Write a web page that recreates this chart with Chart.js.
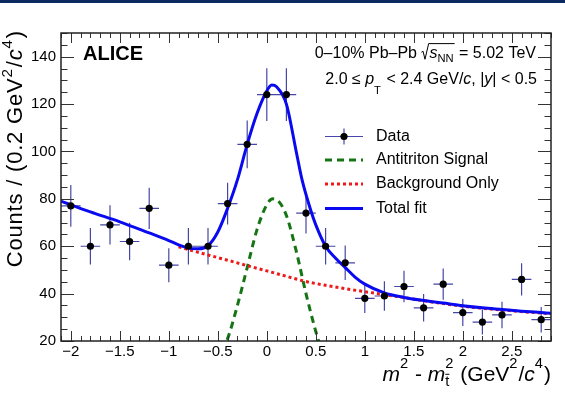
<!DOCTYPE html>
<html>
<head>
<meta charset="utf-8">
<script src="https://cdn.jsdelivr.net/npm/chart.js@4.4.1/dist/chart.umd.min.js"></script>
<style>
html, body { margin: 0; padding: 0; background: #fff; }
#wrap { position: relative; width: 565px; height: 397px; }
#band { position: absolute; left: 0; top: 0; width: 565px; height: 3px; background: #0b2a62; }
</style>
</head>
<body>
<div id="wrap"><canvas id="c" width="565" height="397"></canvas><div id="band"></div></div>
<script>
// measured counts per 0.2 GeV^2/c^4 bin
var binX = [-2.0, -1.8, -1.6, -1.4, -1.2, -1.0, -0.8, -0.6, -0.4, -0.2, 0.0, 0.2, 0.4, 0.6, 0.8, 1.0, 1.2, 1.4, 1.6, 1.8, 2.0, 2.2, 2.4, 2.6, 2.8];
var counts = [77, 60, 69, 62, 76, 52, 60, 60, 78, 103, 124, 124, 74, 60, 53, 38, 39, 43, 34, 44, 32, 28, 31, 46, 29];
var countErr = [8.8, 7.7, 8.3, 7.9, 8.7, 7.2, 7.7, 7.7, 8.8, 10.1, 11.1, 11.1, 8.6, 7.7, 7.3, 6.2, 6.2, 6.6, 5.8, 6.6, 5.7, 5.3, 5.6, 6.8, 5.4];
var binHalf = 0.1;

// fit curves
var fitX = [-2.1, -1.8, -1.5, -1.2, -1.0, -0.9, -0.8, -0.7, -0.6, -0.5, -0.4, -0.3, -0.2, -0.1, 0.0, 0.05, 0.1, 0.2, 0.3, 0.36, 0.45, 0.5, 0.6, 0.7, 0.8, 0.9, 1.0, 1.2, 1.4, 1.6, 1.8, 2.0, 2.2, 2.4, 2.6, 2.8, 2.9];
var fitY = [79, 74.5, 70.3, 65.6, 62.4, 60.6, 59.2, 58.9, 60.2, 66, 76, 88, 103, 116, 125.5, 128, 127.3, 120, 100, 88, 75, 69, 60, 55, 51, 47, 44, 40.3, 38.4, 37.1, 36, 34.9, 34, 33.3, 32.6, 32, 31.7];

var bkgX = [-0.9, -0.8, -0.6, -0.4, -0.2, 0.0, 0.2, 0.4, 0.6, 0.8, 1.0, 1.2, 1.4, 1.6, 1.8, 2.0, 2.2, 2.4, 2.6, 2.8, 2.9];
var bkgY = [59.8, 58.6, 56.3, 54.1, 51.8, 49.6, 47.3, 45.1, 43.5, 42.1, 40.8, 39.6, 38.3, 37, 35.8, 34.7, 33.8, 33.1, 32.4, 31.8, 31.5];

var sigX = [-0.46, -0.4, -0.3, -0.2, -0.1, 0.0, 0.06, 0.12, 0.2, 0.3, 0.4, 0.5, 0.56];
var sigY = [16, 21, 35, 51, 67, 77.5, 80, 79, 73, 58, 40, 24, 16];

var xTicks = [-2, -1.5, -1, -0.5, 0, 0.5, 1, 1.5, 2, 2.5];
var yTicks = [20, 40, 60, 80, 100, 120, 140];

var FF = '"Liberation Sans", Arial, Helvetica, sans-serif';
var errColor = '#4646a6';
var fitColor = '#0a0af0';
var bkgColor = '#ee1a1a';
var sigColor = '#157515';

function pts(xs, ys) {
    return xs.map(function (x, i) { return { x: x, y: ys[i] }; });
}
function fmt(v) { return String(v).replace('-', '\u2212'); }
function fnt(size, it, bold) {
    return (it ? 'italic ' : '') + (bold ? 'bold ' : '') + size + 'px ' + FF;
}

// tiny TLatex-like text: parts are {t}, {sup}, {sub}, {sup, sub} stacked, {rad: n}
function partWidth(ctx, p, fs) {
    if (p.rad) return fs * 0.5;
    if (p.sup !== undefined || p.sub !== undefined) {
        var s = fs * 0.7, w = 0;
        if (p.sup !== undefined) { ctx.font = fnt(s, p.supIt); w = Math.max(w, ctx.measureText(p.sup).width); }
        if (p.sub !== undefined) { ctx.font = fnt(s, p.subIt); w = Math.max(w, ctx.measureText(p.sub).width); }
        return w + 1;
    }
    ctx.font = fnt(fs, p.it, p.b);
    return ctx.measureText(p.t).width;
}

function drawRich(ctx, parts, x, y, fs, align, supDy) {
    var ws = parts.map(function (p) { return partWidth(ctx, p, fs); });
    var total = ws.reduce(function (a, b) { return a + b; }, 0);
    var cx = align === 'right' ? x - total : x;
    ctx.textAlign = 'left';
    ctx.textBaseline = 'alphabetic';
    ctx.fillStyle = '#000';
    ctx.strokeStyle = '#000';
    parts.forEach(function (p, i) {
        if (p.rad) {
            var aw = 0;
            for (var j = i + 1; j <= i + p.rad; j++) aw += ws[j];
            ctx.lineWidth = 1;
            ctx.beginPath();
            ctx.moveTo(cx, y - 0.36 * fs);
            ctx.lineTo(cx + 0.1 * fs, y - 0.42 * fs);
            ctx.lineTo(cx + 0.22 * fs, y + 0.08 * fs);
            ctx.lineTo(cx + 0.45 * fs, y - 0.9 * fs);
            ctx.lineTo(cx + 0.5 * fs + aw, y - 0.9 * fs);
            ctx.stroke();
        } else if (p.sup !== undefined || p.sub !== undefined) {
            var s = fs * 0.7;
            if (p.sup !== undefined) {
                ctx.font = fnt(s, p.supIt);
                ctx.fillText(p.sup, cx, y - (supDy || 0.6) * fs);
            }
            if (p.sub !== undefined) {
                ctx.font = fnt(s, p.subIt);
                var sy = y + (p.subDy || 0.24) * fs;
                ctx.fillText(p.sub, cx, sy);
                if (p.bar) {
                    var bw = ctx.measureText(p.sub).width;
                    ctx.lineWidth = 1;
                    ctx.beginPath();
                    ctx.moveTo(cx, sy - 0.8 * s);
                    ctx.lineTo(cx + bw, sy - 0.8 * s);
                    ctx.stroke();
                }
            }
        } else {
            ctx.font = fnt(fs, p.it, p.b);
            ctx.fillText(p.t, cx, y);
        }
        cx += ws[i];
    });
}

var annotate = {
    id: 'annotate',
    beforeDatasetsDraw: function (chart) {
        var ctx = chart.ctx, sx = chart.scales.x, sy = chart.scales.y;
        ctx.save();
        ctx.strokeStyle = errColor;
        ctx.lineWidth = 1.2;
        ctx.beginPath();
        for (var i = 0; i < binX.length; i++) {
            var px = sx.getPixelForValue(binX[i]);
            var py = sy.getPixelForValue(counts[i]);
            ctx.moveTo(sx.getPixelForValue(binX[i] - binHalf), py);
            ctx.lineTo(sx.getPixelForValue(binX[i] + binHalf), py);
            ctx.moveTo(px, sy.getPixelForValue(counts[i] - countErr[i]));
            ctx.lineTo(px, sy.getPixelForValue(counts[i] + countErr[i]));
        }
        ctx.stroke();
        ctx.restore();
    },
    afterDraw: function (chart) {
        var ctx = chart.ctx, sx = chart.scales.x, sy = chart.scales.y, a = chart.chartArea;
        ctx.save();

        // inward ticks on all four sides
        ctx.strokeStyle = '#333';
        ctx.lineWidth = 1;
        ctx.beginPath();
        for (var k = -21; k <= 29; k++) {
            var px = Math.round(sx.getPixelForValue(k / 10)) + 0.5;
            var len = xTicks.indexOf(k / 10) >= 0 ? 10 : 5;
            ctx.moveTo(px, a.bottom); ctx.lineTo(px, a.bottom - len);
            ctx.moveTo(px, a.top); ctx.lineTo(px, a.top + len);
        }
        for (var v = 20; v <= 150; v += 5) {
            var py = Math.round(sy.getPixelForValue(v)) + 0.5;
            var ln = yTicks.indexOf(v) >= 0 ? 13 : 6.5;
            ctx.moveTo(a.left, py); ctx.lineTo(a.left + ln, py);
            ctx.moveTo(a.right, py); ctx.lineTo(a.right - ln, py);
        }
        ctx.stroke();
        ctx.strokeStyle = '#222';
        ctx.lineWidth = 1.5;
        ctx.strokeRect(a.left, a.top, a.right - a.left, a.bottom - a.top);

        // texts
        ctx.fillStyle = '#000';
        ctx.font = fnt(20, false, true);
        ctx.textAlign = 'left';
        ctx.textBaseline = 'alphabetic';
        ctx.fillText('ALICE', 83, 60);

        drawRich(ctx, [
            { t: '0\u201310% Pb\u2013Pb ' }, { rad: 2 }, { t: 's', it: true }, { sub: 'NN', subDy: 0.24 },
            { t: ' = 5.02 TeV' }
        ], 536, 58, 16, 'right');

        drawRich(ctx, [
            { t: '2.0 \u2264 ' }, { t: 'p', it: true }, { sub: 'T', subDy: 0.62 },
            { t: ' < 2.4 GeV/' }, { t: 'c', it: true }, { t: ', |' }, { t: 'y', it: true }, { t: '| < 0.5' }
        ], 537, 84, 16, 'right');

        drawRich(ctx, [
            { t: 'm', it: true }, { sup: '2' }, { t: ' - ' }, { t: 'm', it: true },
            { sup: '2', sub: 't', bar: true }, { t: ' (GeV' }, { sup: '2' }, { t: '/' },
            { t: 'c', it: true }, { sup: '4' }, { t: ')' }
        ], 551, 381, 21, 'right', 0.6);

        ctx.save();
        ctx.translate(22, 30);
        ctx.rotate(-Math.PI / 2);
        ctx.letterSpacing = '0.8px';
        drawRich(ctx, [
            { t: 'Counts / (0.2 GeV' }, { sup: '2' }, { t: '/' }, { t: 'c', it: true }, { sup: '4' }, { t: ')' }
        ], 0, 0, 22, 'right', 0.45);
        ctx.letterSpacing = '0px';
        ctx.restore();

        // legend
        var legY = [136.5, 160, 184, 208.5];
        var lx0 = 325, lx1 = 363, tx = 376;
        var ds = chart.data.datasets;
        var rows = [ds[0], ds[3], ds[2], ds[1]];
        rows.forEach(function (d, i) {
            var y = legY[i];
            ctx.beginPath();
            if (i === 0) {
                ctx.strokeStyle = errColor;
                ctx.lineWidth = 1.2;
                ctx.setLineDash([]);
                ctx.moveTo(lx0, y); ctx.lineTo(lx1, y);
                ctx.moveTo((lx0 + lx1) / 2, y - 8); ctx.lineTo((lx0 + lx1) / 2, y + 8);
                ctx.stroke();
                ctx.fillStyle = '#000';
                ctx.beginPath();
                ctx.arc((lx0 + lx1) / 2, y, 3.6, 0, Math.PI * 2);
                ctx.fill();
            } else {
                ctx.strokeStyle = d.borderColor;
                ctx.lineWidth = d.borderWidth;
                ctx.setLineDash(d.borderDash || []);
                ctx.moveTo(lx0, y); ctx.lineTo(lx1, y);
                ctx.stroke();
            }
            ctx.setLineDash([]);
            ctx.fillStyle = '#000';
            ctx.font = fnt(16);
            ctx.textAlign = 'left';
            ctx.textBaseline = 'middle';
            ctx.fillText(d.label, tx, y);
        });
        ctx.restore();
    }
};

Chart.defaults.color = '#000';

new Chart(document.getElementById('c'), {
    type: 'scatter',
    data: {
        datasets: [{
            label: 'Data',
            data: pts(binX, counts),
            showLine: false,
            pointRadius: 3.6,
            pointBackgroundColor: '#000',
            pointBorderWidth: 0
        }, {
            label: 'Total fit',
            data: pts(fitX, fitY),
            showLine: true,
            borderColor: fitColor,
            borderWidth: 3,
            pointRadius: 0,
            cubicInterpolationMode: 'monotone',
            clip: 0
        }, {
            label: 'Background Only',
            data: pts(bkgX, bkgY),
            showLine: true,
            borderColor: bkgColor,
            borderWidth: 3,
            borderDash: [3, 3],
            pointRadius: 0,
            cubicInterpolationMode: 'monotone',
            clip: 0
        }, {
            label: 'Antitriton Signal',
            data: pts(sigX, sigY),
            showLine: true,
            borderColor: sigColor,
            borderWidth: 3,
            borderDash: [7, 5],
            pointRadius: 0,
            cubicInterpolationMode: 'monotone',
            clip: 0
        }]
    },
    options: {
        responsive: false,
        animation: false,
        events: [],
        layout: { padding: { top: 33, right: 14, left: 0, bottom: 0 } },
        plugins: {
            legend: { display: false },
            tooltip: { enabled: false }
        },
        scales: {
            x: {
                type: 'linear',
                min: -2.1,
                max: 2.9,
                afterBuildTicks: function (s) { s.ticks = xTicks.map(function (v) { return { value: v }; }); },
                afterFit: function (s) { s.height = 56; },
                grid: { display: false, drawTicks: false },
                border: { display: false },
                ticks: { autoSkip: false, maxRotation: 0, padding: 2, color: '#000', font: { family: FF, size: 15 }, callback: fmt }
            },
            y: {
                type: 'linear',
                min: 20,
                max: 150,
                afterBuildTicks: function (s) { s.ticks = yTicks.map(function (v) { return { value: v }; }); },
                afterFit: function (s) { s.width = 61; },
                grid: { display: false, drawTicks: false },
                border: { display: false },
                ticks: { autoSkip: false, padding: 5, color: '#000', font: { family: FF, size: 15 }, callback: fmt }
            }
        }
    },
    plugins: [annotate]
});
</script>
</body>
</html>
